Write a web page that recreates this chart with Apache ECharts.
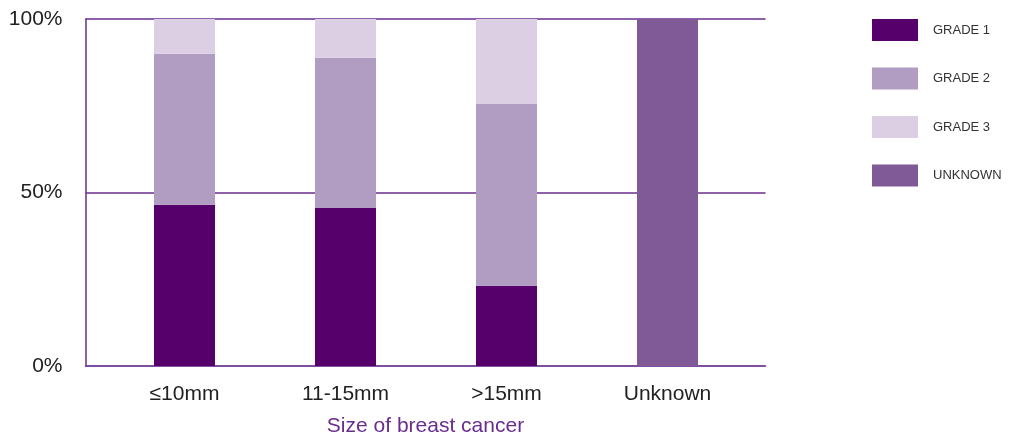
<!DOCTYPE html>
<html><head><meta charset="utf-8">
<script src="https://cdn.jsdelivr.net/npm/echarts@6/dist/echarts.min.js"></script>
<style>html,body{margin:0;padding:0;background:#fff}#c{width:1016px;height:434px}</style>
</head><body><div id="c"></div>
<script>
var categories = ['≤10mm', '11-15mm', '>15mm', 'Unknown'];
var grade1 = [46.5, 45.5, 23.1, 0];
var grade2 = [43.5, 43.3, 52.4, 0];
var grade3 = [10.0, 11.2, 24.5, 0];
var unknown = [0, 0, 0, 100];
var yTicks = [0, 50, 100];

var font = 'Liberation Sans';
var chart = echarts.init(document.getElementById('c'));
function bar(name, data, color) {
  return {
    name: name, type: 'bar', stack: 'a', data: data, xAxisIndex: 1, yAxisIndex: 1,
    barWidth: 61, itemStyle: { color: color }, emphasis: { disabled: true }
  };
}
chart.setOption({
  animation: false,
  textStyle: { fontFamily: font },
  grid: [
    { left: 85.5, right: 250.5, top: 19, bottom: 68, outerBoundsMode: 'none', containLabel: false },
    { left: 104, width: 644, top: 19, bottom: 68, outerBoundsMode: 'none', containLabel: false }
  ],
  legend: {
    orient: 'vertical', left: 867, top: 14, itemWidth: 46, itemHeight: 22, itemGap: 26.5,
    icon: 'rect',
    textStyle: { fontSize: 13, color: '#333', padding: [0, 0, 0, 10], fontFamily: font },
    data: ['GRADE 1', 'GRADE 2', 'GRADE 3', 'UNKNOWN']
  },
  xAxis: [
    { type: 'category', gridIndex: 0, data: categories, axisTick: { show: false }, axisLabel: { show: false },
      axisLine: { lineStyle: { color: '#7b4a9c', width: 1.5 } },
      name: 'Size of breast cancer', nameLocation: 'middle', nameGap: 49.5,
      nameTextStyle: { color: '#6a2c8f', fontSize: 21, fontFamily: font } },
    { type: 'category', gridIndex: 1, data: categories, axisTick: { show: false }, axisLine: { show: false },
      axisLabel: { fontSize: 21, color: '#222', margin: 18, fontFamily: font } }
  ],
  yAxis: [
    { type: 'value', gridIndex: 0, min: 0, max: 100, interval: 50,
      axisLine: { show: true, lineStyle: { color: '#6a2c8f', width: 1.5 } }, axisTick: { show: false },
      splitLine: { lineStyle: { color: '#6a2c8f', width: 1.5 } },
      axisLabel: { fontSize: 21, color: '#222', margin: 23, fontFamily: font,
        formatter: function (v) { return yTicks.indexOf(v) >= 0 ? v + '%' : ''; } } },
    { type: 'value', gridIndex: 1, min: 0, max: 100, show: false }
  ],
  series: [
    bar('GRADE 1', grade1, '#55006b'),
    bar('GRADE 2', grade2, '#b19cc2'),
    bar('GRADE 3', grade3, '#dccfe3'),
    bar('UNKNOWN', unknown, '#805a96')
  ]
});
</script></body></html>
